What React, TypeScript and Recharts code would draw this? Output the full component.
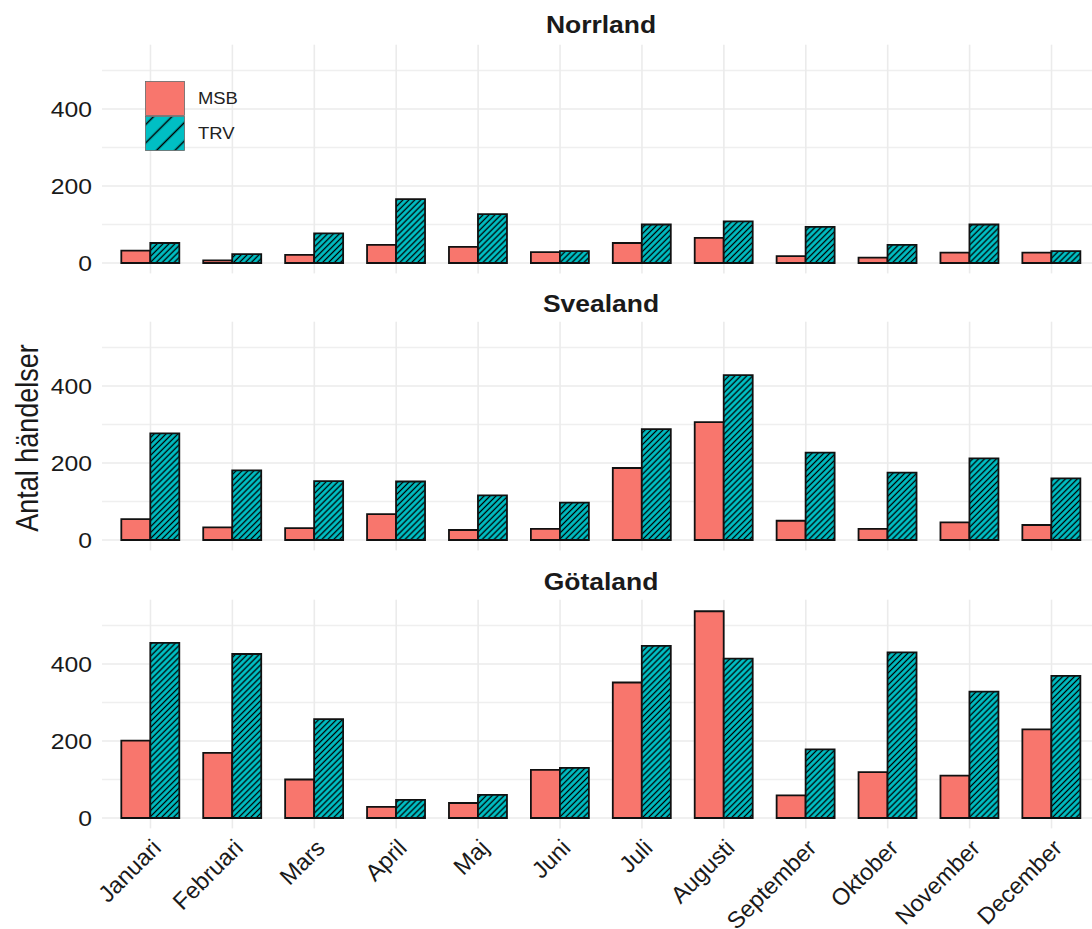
import React from 'react'
import { BarChart, Bar, XAxis, YAxis, CartesianGrid, Legend } from 'recharts'

const months = [
  'Januari', 'Februari', 'Mars', 'April', 'Maj', 'Juni',
  'Juli', 'Augusti', 'September', 'Oktober', 'November', 'December',
]

const norrlandMSB = [32, 7, 21, 47, 42, 28, 52, 65, 18, 14, 27, 27]
const norrlandTRV = [52, 23, 77, 166, 127, 31, 100, 108, 94, 47, 100, 31]
const svealandMSB = [54, 33, 31, 67, 26, 29, 187, 306, 50, 29, 46, 39]
const svealandTRV = [277, 181, 153, 152, 116, 97, 288, 428, 227, 175, 212, 160]
const gotalandMSB = [201, 169, 100, 29, 39, 125, 352, 537, 59, 119, 110, 230]
const gotalandTRV = [455, 426, 257, 47, 60, 130, 447, 414, 178, 430, 328, 369]

const yTicks = [0, 200, 400]
const yMinor = [100, 300, 500]

// the reference looks a little stretched sideways, so some text is widened
const SX = 1.15
const FONT = '"Liberation Sans", Arial, Helvetica, sans-serif'
const MSB_FILL = '#F8766D'
const TRV_FILL = '#00BFC4'
const PLOT_H = 228.7

const YTick = ({ x, y, payload }: any) => (
  <text
    transform={`translate(${x},${y}) scale(${SX},1)`}
    textAnchor="end"
    dy="0.36em"
    fontSize={21.5}
    fill="#1a1a1a"
    fontFamily={FONT}
  >
    {payload.value}
  </text>
)

const MonthTick = ({ x, y, payload }: any) => (
  <g transform={`translate(${x + 12},${y + 21}) rotate(-45)`}>
    <text textAnchor="end" fontSize={23.5} fill="#1a1a1a" fontFamily={FONT}>
      {payload.value}
    </text>
  </g>
)

const NoTick = () => <g />

const LegendKeys = ({ payload }: any) => (
  <div style={{ fontFamily: FONT }}>
    {(payload || []).map((entry: any) => (
      <div key={entry.value} style={{ display: 'flex', alignItems: 'center', height: 35 }}>
        <svg width={40} height={35} style={{ display: 'block' }}>
          <rect
            x={0.5}
            y={0.5}
            width={39}
            height={34}
            fill={entry.dataKey === 'TRV' ? 'url(#trvKey)' : MSB_FILL}
            stroke="#666"
            strokeWidth={0.8}
          />
        </svg>
        <span
          style={{
            marginLeft: 13,
            fontSize: 16,
            color: '#222',
            display: 'inline-block',
            transform: `scaleX(${SX})`,
            transformOrigin: 'left center',
          }}
        >
          {entry.value}
        </span>
      </div>
    ))}
  </div>
)

interface PanelProps {
  title: string
  msb: number[]
  trv: number[]
  top: number
  plotTop: number
  titleTop: number
  bottomAxis?: boolean
  legend?: boolean
}

function Panel({ title, msb, trv, top, plotTop, titleTop, bottomAxis, legend }: PanelProps) {
  const data = months.map((month, i) => ({ month, MSB: msb[i], TRV: trv[i] }))
  const axisH = bottomAxis ? 120 : 14
  return (
    <>
      <div
        style={{
          position: 'absolute',
          left: 102,
          width: 998,
          top: titleTop,
          height: 30,
          lineHeight: '30px',
          textAlign: 'center',
          fontFamily: FONT,
          fontWeight: 'bold',
          fontSize: 23,
          color: '#1a1a1a',
          transform: `scaleX(${SX})`,
        }}
      >
        {title}
      </div>
      <div style={{ position: 'absolute', left: 0, top }}>
        <BarChart
          width={1100}
          height={plotTop + PLOT_H + axisH}
          data={data}
          margin={{ top: plotTop, right: 0, bottom: 0, left: 0 }}
          barCategoryGap="14.4%"
          barGap={0}
        >
          <CartesianGrid vertical={false} horizontalValues={yMinor} stroke="#EFEFEF" strokeWidth={1.4} />
          <CartesianGrid syncWithTicks stroke="#EBEBEB" strokeWidth={1.6} />
          <XAxis
            dataKey="month"
            padding={{ left: 7.5, right: 7.5 }}
            axisLine={false}
            tickLine={false}
            tickSize={0}
            tickMargin={0}
            height={axisH}
            interval={0}
            tick={bottomAxis ? <MonthTick /> : <NoTick />}
          />
          <YAxis
            type="number"
            width={102}
            domain={[-27, 567]}
            allowDataOverflow
            ticks={yTicks}
            axisLine={false}
            tickLine={false}
            tickSize={0}
            tickMargin={10}
            tick={<YTick />}
          />
          {legend && (
            <Legend
              layout="vertical"
              align="center"
              verticalAlign="middle"
              content={<LegendKeys />}
              wrapperStyle={{ left: 145, top: 81 - top, width: 'auto' }}
            />
          )}
          <Bar dataKey="MSB" fill={MSB_FILL} stroke="#111" strokeWidth={1.8} isAnimationActive={false} />
          <Bar dataKey="TRV" fill="url(#trvHatch)" stroke="#111" strokeWidth={1.8} isAnimationActive={false} />
        </BarChart>
      </div>
    </>
  )
}

export default function App() {
  return (
    <div
      style={{
        position: 'fixed',
        left: 0,
        top: 0,
        width: 1092,
        height: 929,
        overflow: 'hidden',
        background: '#fff',
      }}
    >
      <svg width={0} height={0} style={{ position: 'absolute' }}>
        <defs>
          <pattern id="trvHatch" width={4.2} height={4.2} patternUnits="userSpaceOnUse" patternTransform="rotate(45)">
            <rect width={4.2} height={4.2} fill={TRV_FILL} />
            <line x1={2.1} y1={0} x2={2.1} y2={4.2} stroke="#000" strokeWidth={1.3} />
          </pattern>
          <pattern id="trvKey" width={13} height={13} patternUnits="userSpaceOnUse" patternTransform="rotate(45)">
            <rect width={13} height={13} fill={TRV_FILL} />
            <line x1={6.5} y1={0} x2={6.5} y2={13} stroke="#000" strokeWidth={1.5} />
          </pattern>
        </defs>
      </svg>

      <Panel title="Norrland" msb={norrlandMSB} trv={norrlandTRV} top={0} plotTop={44.7} titleTop={10} legend />
      <Panel title="Svealand" msb={svealandMSB} trv={svealandTRV} top={300} plotTop={21.7} titleTop={288.5} />
      <Panel title="Götaland" msb={gotalandMSB} trv={gotalandTRV} top={578} plotTop={21.7} titleTop={566.5} bottomAxis />

      <svg width={60} height={929} style={{ position: 'absolute', left: 0, top: 0 }}>
        <text
          transform={`translate(38,438) scale(${SX},1) rotate(-90)`}
          textAnchor="middle"
          fontSize={27}
          fill="#1a1a1a"
          fontFamily={FONT}
        >
          Antal händelser
        </text>
      </svg>
    </div>
  )
}
